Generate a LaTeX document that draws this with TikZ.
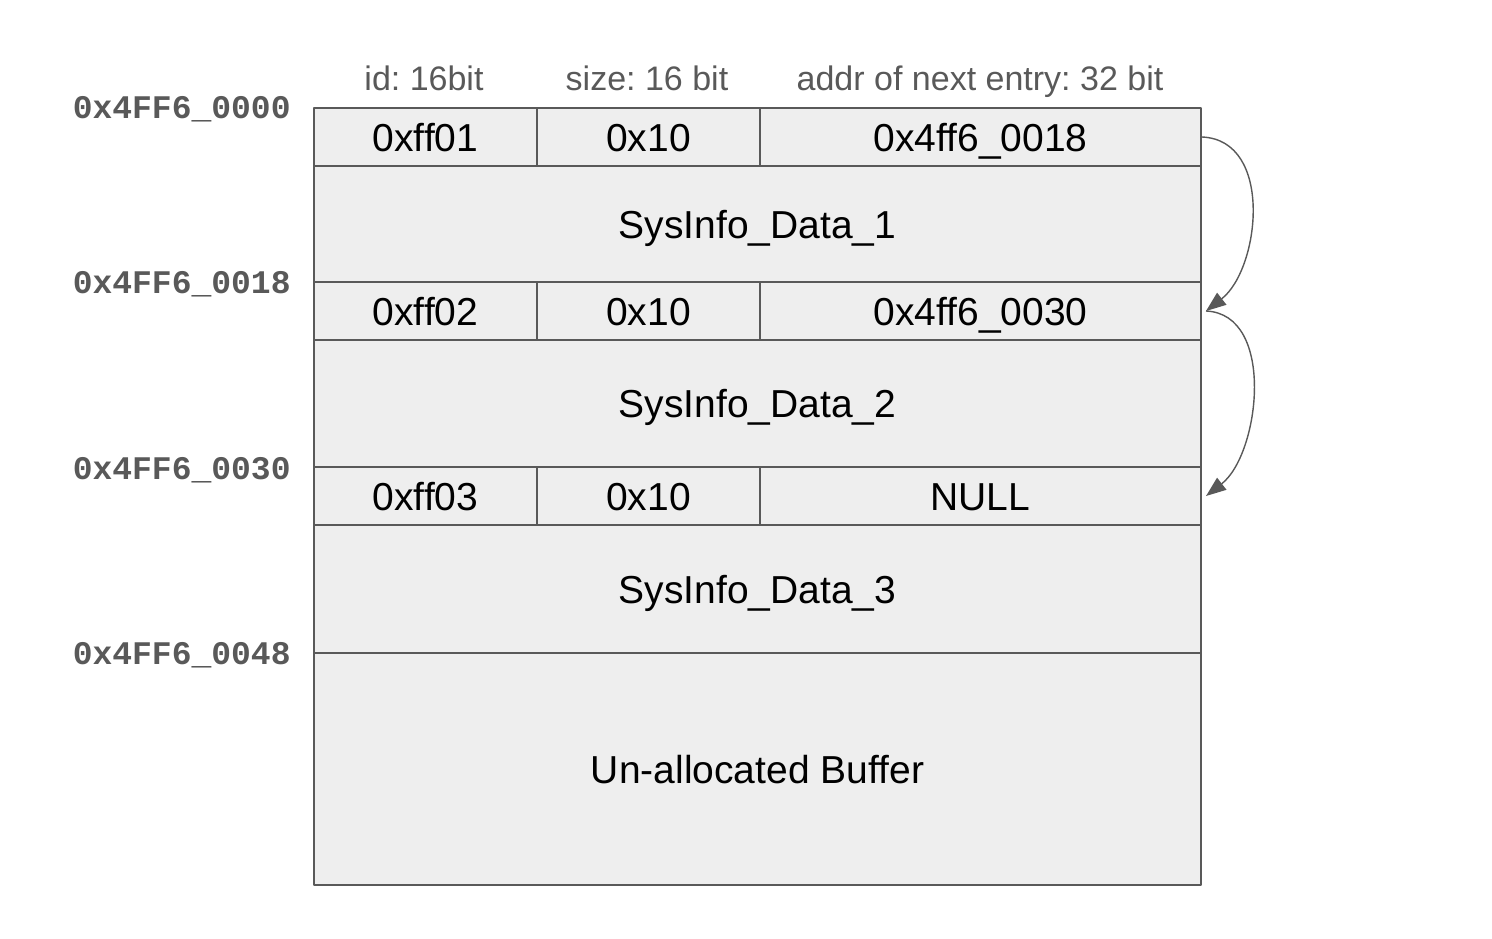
\documentclass[tikz,border=0pt]{standalone}
\usepackage{fontspec}
\setmainfont{Liberation Sans}
\newfontfamily\addrfont{Liberation Mono}
\usetikzlibrary{arrows.meta}
\definecolor{cellgray}{HTML}{EEEEEE}
\definecolor{linegray}{HTML}{595959}
\frenchspacing
\tikzset{
  cell/.style={draw=linegray, fill=cellgray, line width=1pt, inner sep=0pt, anchor=north west,
    text height=14pt, text depth=0pt, font=\fontsize{19.5}{22}\selectfont},
  hdr/.style={text=linegray, inner sep=0pt, text height=12.2pt, text depth=0pt,
    font=\fontsize{17}{20}\selectfont},
  addr/.style={anchor=east, inner sep=0pt, text=linegray, text height=10.5pt, text depth=0pt,
    font=\addrfont\bfseries\fontsize{16.5}{20}\selectfont},
  link/.style={draw=linegray, line width=0.7pt, ->}
}
\begin{document}
\begin{tikzpicture}[x=0.5pt, y=-0.5pt, line join=round, >={Triangle[length=10pt,width=7.5pt]}]
			\useasboundingbox (0,0) rectangle (1492,938);
			% column titles
			\node[hdr] (hid) at (424,78) {id: 16bit};
			\node[hdr] (hsize) at (647,78) {size: 16 bit};
			\node[hdr] (hnext) at (980,78) {addr of next entry: 32 bit};
			% entry 1
			\node[cell, minimum width=111.5pt, minimum height=29pt] (id1) at (313,107) {0xff01};
			\node[cell, minimum width=111.5pt, minimum height=29pt] (sz1) at (536,107) {0x10};
			\node[cell, minimum width=220.5pt, minimum height=29pt] (nx1) at (759,107) {0x4ff6\_0018};
			\node[cell, minimum width=443.5pt, minimum height=58pt] (data1) at (313,165) {SysInfo\_Data\_1};
			% entry 2
			\node[cell, minimum width=111.5pt, minimum height=29pt] (id2) at (313,281) {0xff02};
			\node[cell, minimum width=111.5pt, minimum height=29pt] (sz2) at (536,281) {0x10};
			\node[cell, minimum width=220.5pt, minimum height=29pt] (nx2) at (759,281) {0x4ff6\_0030};
			\node[cell, minimum width=443.5pt, minimum height=63.5pt] (data2) at (313,339) {SysInfo\_Data\_2};
			% entry 3
			\node[cell, minimum width=111.5pt, minimum height=29pt] (id3) at (313,466) {0xff03};
			\node[cell, minimum width=111.5pt, minimum height=29pt] (sz3) at (536,466) {0x10};
			\node[cell, minimum width=220.5pt, minimum height=29pt] (nx3) at (759,466) {NULL};
			\node[cell, minimum width=443.5pt, minimum height=64pt] (data3) at (313,524) {SysInfo\_Data\_3};
			% free space
			\node[cell, minimum width=443.5pt, minimum height=116pt] (buf) at (313,652) {Un-allocated Buffer};
			% addresses
			\node[addr] (a0) at (291,108) {0x4FF6\_0000};
			\node[addr] (a1) at (291,283) {0x4FF6\_0018};
			\node[addr] (a2) at (291,469) {0x4FF6\_0030};
			\node[addr] (a3) at (291,654) {0x4FF6\_0048};
			% next pointers
			\draw[link] (nx1.east) .. controls +(72,3) and +(54,-42) .. ([xshift=2]nx2.east);
			\draw[link] ([xshift=2]nx2.east) .. controls +(70,3) and +(54,-42) .. ([xshift=2]nx3.east);
		\end{tikzpicture}
\end{document}
